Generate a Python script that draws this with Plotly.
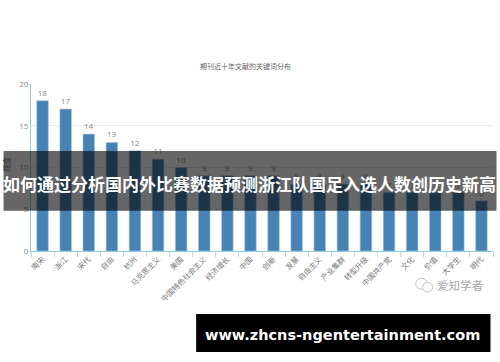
import plotly.graph_objects as go

categories = ["南宋", "浙江", "宋代", "自由", "杭州", "马克思主义", "美国", "中国特色社会主义", "经济增长", "中国",
              "创新", "发展", "自由主义", "产业集群", "转型升级", "中国共产党", "文化", "价值", "大学生", "明代"]
values = [18, 17, 14, 13, 12, 11, 10, 9, 9, 9, 9, 8, 8, 8, 8, 7, 7, 7, 7, 6]
y_ticks = [0, 5, 10, 15, 20]
chart_title = "期刊近十年文献的关键词分布"
headline = "如何通过分析国内外比赛数据预测浙江队国足入选人数创历史新高"
site = "www.zhcns-ngentertainment.com"
watermark = "爱知学者"
y_title = "频度"

W, H = 500, 362
L, R, T, B = 30.5, 493.5, 83.5, 251.5
CJK = "Noto Sans CJK SC"
# paper coordinates are fractions of the plot area
px = lambda v: (v - L) / (R - L)
py = lambda v: (B - v) / (B - T)

fig = go.Figure(go.Bar(
    x=categories, y=values,
    marker=dict(color="#4682b4", line=dict(color="#a9c8df", width=0.6)),
    text=values, textposition="outside", cliponaxis=False,
    textfont=dict(family="Open Sans", size=8, color="#888888"),
    hoverinfo="skip",
))

shapes = [
    dict(type="rect", xref="paper", yref="paper", x0=px(3), x1=px(497), y0=py(151), y1=py(211),
         fillcolor="rgba(0,0,0,0.6)", line_width=0, layer="above"),
    dict(type="rect", xref="paper", yref="paper", x0=px(196), x1=px(491), y0=py(315), y1=py(353),
         fillcolor="#000000", line_width=0, layer="above"),
    dict(type="circle", xref="paper", yref="paper", x0=px(416), x1=px(428), y0=py(279), y1=py(290),
         line=dict(color="#c4c4c4", width=1), fillcolor="rgba(255,255,255,0)", layer="above"),
    dict(type="circle", xref="paper", yref="paper", x0=px(423), x1=px(433), y0=py(283), y1=py(293),
         line=dict(color="#c4c4c4", width=1), fillcolor="#ffffff", layer="above"),
]

annotations = [
    dict(text=chart_title, x=px(245), y=py(65.5), font=dict(family=CJK, size=7, color="#666666")),
    dict(text=headline, x=px(249.5), y=py(184), font=dict(family=CJK, size=17, color="#ffffff", weight="bold")),
    dict(text=site, x=px(342.5), y=py(336), font=dict(family="DejaVu Sans", size=14.5, color="#ffffff", weight="bold")),
    dict(text=watermark, x=px(460), y=py(285.5), font=dict(family=CJK, size=11.5, color="#a8a8a8")),
    dict(text=y_title, x=px(5.5), y=py(164), textangle=-90, font=dict(family=CJK, size=7.5, color="#333333")),
]
for a in annotations:
    a.update(xref="paper", yref="paper", showarrow=False, xanchor="center", yanchor="middle")

fig.update_layout(
    width=W, height=H, autosize=False,
    margin=dict(l=L, r=W - R, t=T, b=H - B, pad=0),
    paper_bgcolor="#ffffff", plot_bgcolor="#ffffff",
    showlegend=False, bargap=0.5,
    shapes=shapes, annotations=annotations,
    font=dict(family=CJK),
    xaxis=dict(type="category", tickson="boundaries", ticks="outside", ticklen=5, tickwidth=1,
               tickcolor="#b5dce9", showline=True, linecolor="#8fcde0", linewidth=1, showgrid=False,
               tickangle=-45, tickfont=dict(family=CJK, size=7.5, color="#777777"), automargin=False),
    yaxis=dict(range=[0, 20], tickvals=y_ticks, ticks="", showline=True, linecolor="#8fcde0", linewidth=1,
               showgrid=True, gridcolor="#ebebeb", gridwidth=1, zeroline=False, automargin=False,
               tickfont=dict(family="Open Sans", size=8, color="#888888")),
)
fig.write_html("out.html", config=dict(displayModeBar=False),
               post_script="document.body.style.margin='0';document.documentElement.style.overflow='hidden';")
